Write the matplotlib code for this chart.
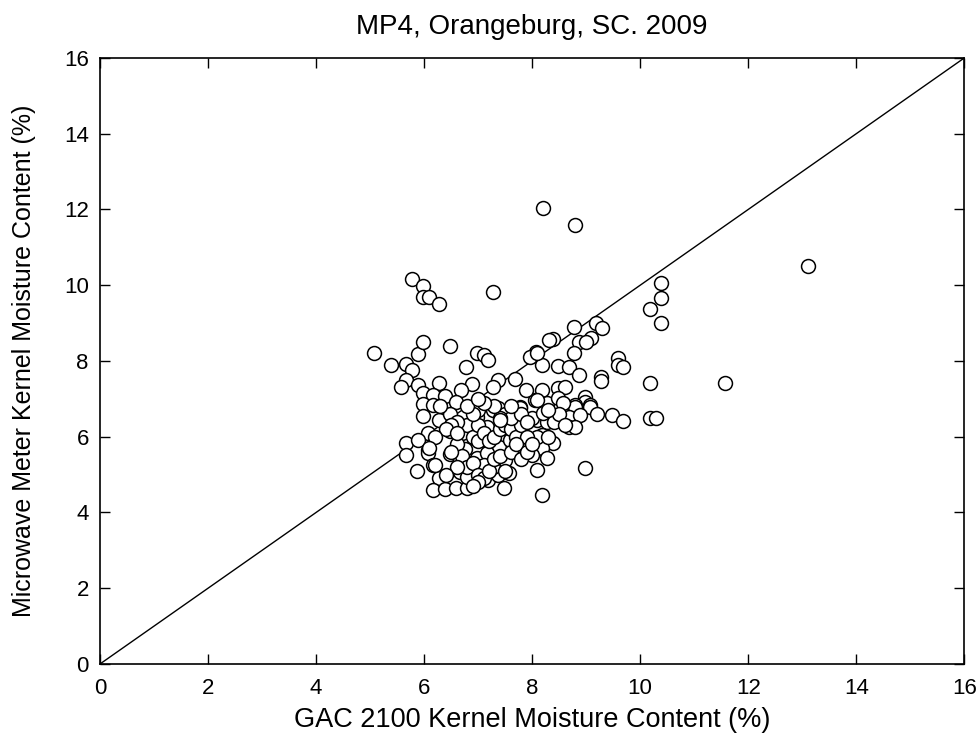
import matplotlib
matplotlib.use("Agg")
import matplotlib.pyplot as plt

plt.rcParams['font.family'] = ['Liberation Sans', 'DejaVu Sans']

# GAC 2100 vs microwave meter kernel moisture (%)
gac = [
    8.2, 8.8, 13.1, 11.57,
    5.78, 5.98, 5.98, 6.1, 6.27, 7.28,
    10.39, 10.39, 10.19, 10.39,
    9.19, 9.3, 8.78, 8.38, 8.87, 9.09, 9.0,
    8.07, 8.18, 8.78, 8.48, 8.68, 8.87,
    9.59, 9.59, 9.69, 9.28, 9.28, 10.19,
    8.18, 8.48, 8.6, 8.98, 8.98, 9.07, 8.28, 8.48, 8.06, 8.8,
    8.8, 9.07, 9.2, 9.48, 9.69, 10.19, 10.3, 8.68, 8.89, 8.68, 8.8, 8.09, 8.28,
    8.18, 8.39, 8.18, 8.28, 8.09, 8.98, 8.18, 8.57, 8.0,
    5.07, 5.39, 5.67, 5.78, 5.89, 5.98, 6.48, 6.98, 7.1, 7.18, 6.78,
    5.67, 5.57, 5.89, 6.27, 6.89, 6.69, 5.98, 6.17, 6.39, 6.59, 5.98, 6.17, 6.98,
    7.37, 7.28, 7.69, 7.96, 8.09, 7.89, 8.31, 7.37, 7.78, 8.09,
    5.98, 6.27, 6.48, 6.07, 6.48, 5.67, 5.89, 6.07, 5.67, 6.07, 6.48, 6.63, 6.76,
    5.87, 6.17, 6.27, 6.17, 6.39, 6.59, 6.8, 6.67, 6.67, 6.98, 6.98, 7.17, 7.19,
    7.39, 7.37, 7.48, 7.57, 7.5, 7.59, 7.47, 7.69, 7.28, 7.78, 8.0, 8.09, 7.87,
    8.2, 7.17, 7.28, 6.8, 7.1,
    6.7, 6.8, 6.9, 7.0, 7.0, 7.1, 7.2, 7.3, 7.4, 7.5, 7.6, 7.7, 7.8, 7.9,
    7.5, 7.6, 7.4, 7.0, 6.9, 6.6, 6.5, 6.6, 6.7, 6.8, 6.9, 7.0, 7.1, 7.2,
    7.3, 7.4, 7.6, 7.7, 7.8, 7.9, 8.0, 7.8, 7.9, 8.3, 8.4, 8.5, 8.6, 8.3,
    6.3, 6.4, 6.6, 6.2, 6.8, 7.3, 7.6, 7.1, 6.6, 6.4, 6.5, 7.0, 7.5, 6.9,
    6.1, 6.2, 7.0, 7.4,
]
mw = [
    12.05, 11.6, 10.5, 7.42,
    10.16, 9.98, 9.69, 9.69, 9.5, 9.82,
    10.06, 9.66, 9.37, 9.0,
    9.0, 8.87, 8.9, 8.58, 8.5, 8.6, 8.5,
    8.24, 7.89, 8.2, 7.87, 7.84, 7.63,
    8.08, 7.9, 7.84, 7.58, 7.47, 7.42,
    7.23, 7.29, 7.32, 7.05, 6.92, 6.84, 6.89, 7.02, 6.97, 6.84,
    6.79, 6.79, 6.6, 6.57, 6.42, 6.5, 6.5, 6.52, 6.57, 6.26, 6.26, 6.44, 6.39,
    6.05, 5.83, 5.7, 5.44, 5.12, 5.17, 4.46, 6.89, 5.52,
    8.21, 7.89, 7.92, 7.76, 8.18, 8.5, 8.4, 8.21, 8.16, 8.03, 7.84,
    7.5, 7.31, 7.37, 7.42, 7.39, 7.23, 7.15, 7.1, 7.08, 6.92, 6.86, 6.84, 6.89,
    7.5, 7.31, 7.52, 8.1, 8.21, 7.23, 8.55, 6.76, 6.79, 6.97,
    6.55, 6.44, 6.6, 6.1, 6.15, 5.83, 5.91, 5.65, 5.52, 5.57, 5.54, 5.73, 5.68,
    5.1, 5.25, 4.91, 4.59, 4.62, 4.65, 4.65, 5.07, 5.39, 5.44, 6.52, 6.26, 4.86,
    5.73, 4.99, 4.65, 5.04, 5.39, 5.91, 6.39, 6.44, 6.7, 6.76, 6.5, 5.99, 5.65,
    6.63, 5.57, 5.2, 4.94, 5.25,
    6.1, 6.3, 6.0, 6.3, 5.9, 6.1, 5.9, 6.0, 6.2, 6.3, 6.2, 6.0, 6.3, 6.0,
    6.6, 6.5, 6.5, 6.7, 6.6, 6.4, 6.3, 5.8, 5.5, 5.2, 5.3, 5.0, 4.9, 5.1,
    5.4, 5.5, 5.6, 5.8, 5.4, 5.6, 5.8, 6.6, 6.4, 6.0, 6.4, 6.6, 6.3, 6.7,
    6.8, 6.2, 6.1, 6.0, 6.8, 6.8, 6.8, 6.9, 5.2, 5.0, 5.6, 4.8, 5.1, 4.7,
    5.7, 5.25, 7.0, 6.45,
]

fig = plt.figure(figsize=(9.8, 7.4), dpi=100)
ax = fig.add_axes([0.102, 0.1027, 0.882, 0.819])

ax.plot([0, 16], [0, 16], color='black', linewidth=1.0, zorder=1)
ax.scatter(gac, mw, s=100, facecolor='white', edgecolor='black',
           linewidth=1.1, zorder=2)

ax.set_xlim(0, 16)
ax.set_ylim(0, 16)
ax.set_xticks(range(0, 17, 2))
ax.set_yticks(range(0, 17, 2))
ax.tick_params(direction='in', length=7, width=1, top=True, right=True,
               labelsize=16)
ax.tick_params(axis='x', pad=10)
ax.tick_params(axis='y', pad=8)
for sp in ax.spines.values():
    sp.set_linewidth(1.2)

ax.set_xlabel('GAC 2100 Kernel Moisture Content (%)', fontsize=19.5, labelpad=6)
ax.set_ylabel('Microwave Meter Kernel Moisture Content (%)', fontsize=18, labelpad=20)
ax.set_title('MP4, Orangeburg, SC. 2009', fontsize=20, pad=17)

fig.savefig('out.png', dpi=100)
